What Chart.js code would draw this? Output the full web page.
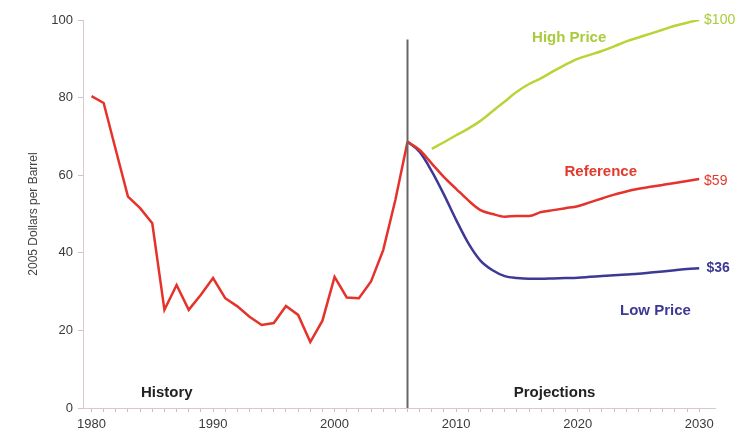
<!DOCTYPE html>
<html>
<head>
<meta charset="utf-8">
<script src="https://cdn.jsdelivr.net/npm/chart.js@4.4.1/dist/chart.umd.min.js"></script>
<style>
  html, body { margin: 0; padding: 0; background: #fff; }
  #wrap { width: 745px; height: 438px; }
</style>
</head>
<body>
<div id="wrap"><canvas id="grafico"></canvas></div>
<script>
// anos e precos (dolares de 2005 por barril)
const anosHistoria = [1980, 1981, 1982, 1983, 1984, 1985, 1986, 1987, 1988, 1989, 1990, 1991, 1992, 1993,
  1994, 1995, 1996, 1997, 1998, 1999, 2000, 2001, 2002, 2003, 2004, 2005, 2006];
const precoHistoria = [80.4, 78.6, 66.5, 54.5, 51.5, 47.6, 25.3, 31.7, 25.3, 29.2, 33.5, 28.3, 26.2, 23.5,
  21.4, 21.9, 26.3, 24.0, 17.0, 22.5, 33.8, 28.5, 28.3, 32.6, 40.7, 53.6, 68.6];

const anosProjecao = [2006, 2007, 2008, 2009, 2010, 2011, 2012, 2013, 2014, 2015, 2016, 2017, 2018,
  2019, 2020, 2021, 2022, 2023, 2024, 2025, 2026, 2027, 2028, 2029, 2030];
const precoReferencia = [68.6, 66.5, 63.0, 59.5, 56.5, 53.5, 51.0, 50.0, 49.3, 49.5, 49.5, 50.5, 51.0,
  51.5, 52.0, 53.0, 54.0, 55.0, 55.8, 56.5, 57.0, 57.5, 58.0, 58.5, 59.0];
const precoBaixo = [68.6, 66.0, 61.0, 55.0, 48.5, 42.5, 38.0, 35.5, 34.0, 33.5, 33.3, 33.3, 33.4,
  33.5, 33.6, 33.8, 34.0, 34.2, 34.4, 34.6, 34.9, 35.2, 35.5, 35.8, 36.0];
const precoAlto = [null, null, 66.8, 68.5, 70.3, 72.0, 74.0, 76.5, 79.0, 81.5, 83.5, 85.0, 86.8,
  88.5, 90.0, 91.0, 92.0, 93.2, 94.5, 95.5, 96.5, 97.5, 98.5, 99.3, 100.0];

const rotulosX = [1980, 1990, 2000, 2010, 2020, 2030];
const rotulosY = [0, 20, 40, 60, 80, 100];
const anoDivisao = 2006;

const corVermelha = '#e5322b';
const corVerde = '#b8d437';
const corAzul = '#3d3994';
const fonte = '"Liberation Sans", Arial, sans-serif';

function pares(anos, valores) {
  return anos.map((a, i) => ({ x: a, y: valores[i] }));
}

// textos em cima do grafico
const anotacoes = {
  id: 'anotacoes',
  afterDatasetsDraw(chart) {
    const ctx = chart.ctx;
    const x = chart.scales.x;
    const y = chart.scales.y;

    // linha vertical historia / projecoes
    ctx.save();
    ctx.strokeStyle = '#6b6464';
    ctx.lineWidth = 2;
    ctx.beginPath();
    ctx.moveTo(x.getPixelForValue(anoDivisao), y.getPixelForValue(95));
    ctx.lineTo(x.getPixelForValue(anoDivisao), y.getPixelForValue(0));
    ctx.stroke();

    const texto = (t, ano, valor, cor, peso, tam, align) => {
      ctx.fillStyle = cor;
      ctx.font = peso + ' ' + tam + 'px ' + fonte;
      ctx.textAlign = align;
      ctx.textBaseline = 'middle';
      ctx.fillText(t, x.getPixelForValue(ano), y.getPixelForValue(valor));
    };
    texto('History', 1986.2, 4, '#222', 'bold', 15, 'center');
    texto('Projections', 2018.1, 4, '#222', 'bold', 15, 'center');
    texto('High Price', 2019.3, 95.4, '#a9cc3c', 'bold', 15, 'center');
    texto('Reference', 2021.9, 60.8, '#e23a2c', 'bold', 15, 'center');
    texto('Low Price', 2026.4, 25, '#3d3994', 'bold', 15, 'center');
    texto('$100', 2030.4, 100, '#a9cc3c', 'normal', 14, 'left');
    texto('$59', 2030.4, 58.5, '#e23a2c', 'normal', 14, 'left');
    texto('$36', 2030.6, 36, '#3d3994', 'bold', 14, 'left');
    ctx.restore();
  }
};

new Chart(document.getElementById('grafico'), {
  type: 'line',
  data: {
    datasets: [
      { data: pares(anosHistoria, precoHistoria), borderColor: corVermelha, borderWidth: 2.5, tension: 0 },
      { data: pares(anosProjecao, precoReferencia), borderColor: corVermelha, borderWidth: 2.5, cubicInterpolationMode: 'monotone' },
      { data: pares(anosProjecao, precoBaixo), borderColor: corAzul, borderWidth: 2.5, cubicInterpolationMode: 'monotone' },
      { data: pares(anosProjecao, precoAlto), borderColor: corVerde, borderWidth: 2.5, cubicInterpolationMode: 'monotone' }
    ]
  },
  options: {
    responsive: true,
    maintainAspectRatio: false,
    animation: false,
    elements: { point: { radius: 0 } },
    layout: { padding: { left: 0, top: 20, right: 30, bottom: 0 } },
    plugins: { legend: { display: false }, tooltip: { enabled: false } },
    scales: {
      x: {
        type: 'linear',
        min: 1979.3,
        max: 2031.3,
        afterBuildTicks: s => { s.ticks = anosHistoria.concat(anosProjecao.slice(1)).map(v => ({ value: v })); },
        afterFit: s => { s.height = 30; },
        border: { color: '#d9c9c9', width: 1 },
        grid: { drawOnChartArea: false, tickLength: 4, color: '#e3b5b5' },
        ticks: {
          autoSkip: false,
          maxRotation: 0,
          padding: 5,
          color: '#3a3a3a',
          font: { family: fonte, size: 13 },
          callback: v => rotulosX.includes(v) ? String(v) : ''
        }
      },
      y: {
        min: 0,
        max: 100,
        afterBuildTicks: s => { s.ticks = rotulosY.map(v => ({ value: v })); },
        afterFit: s => { s.width = 83; },
        border: { color: '#d9c9c9', width: 1 },
        grid: { drawOnChartArea: false, tickLength: 5, color: '#cfc4c4' },
        ticks: {
          padding: 5,
          color: '#3a3a3a',
          font: { family: fonte, size: 13 }
        },
        title: {
          display: true,
          text: '2005 Dollars per Barrel',
          color: '#444',
          font: { family: fonte, size: 12 },
          padding: { top: 26, bottom: 0 }
        }
      }
    }
  },
  plugins: [anotacoes]
});
</script>
</body>
</html>
